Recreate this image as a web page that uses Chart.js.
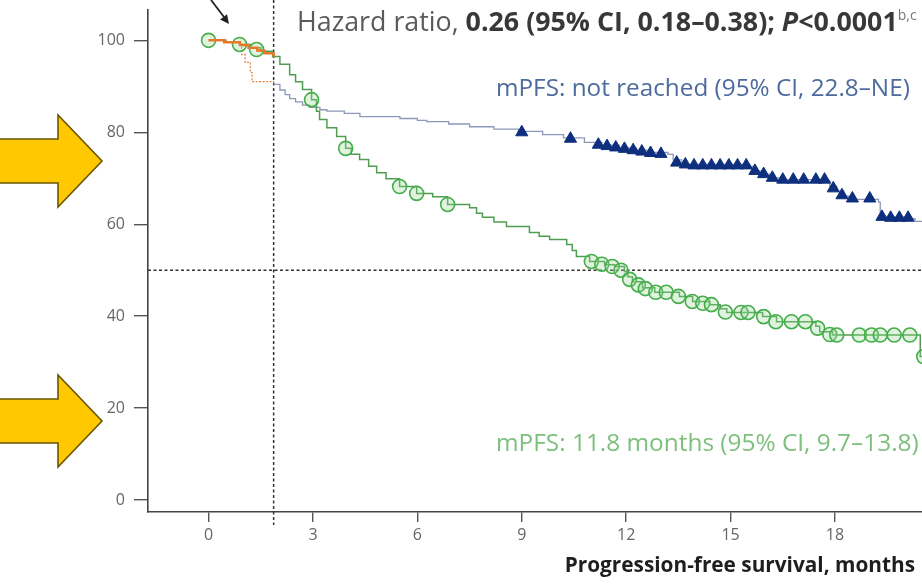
<!DOCTYPE html>
<html>
<head>
<meta charset="utf-8">
<script src="https://cdn.jsdelivr.net/npm/chart.js@4.4.1/dist/chart.umd.min.js"></script>
<style>
  html, body { margin: 0; padding: 0; background: #fff; overflow: hidden; }
  #wrap { width: 922px; height: 584px; }
</style>
</head>
<body>
<div id="wrap"><canvas id="km" width="922" height="584"></canvas></div>
<script>
// Axis ticks
const xTicks = [0, 3, 6, 9, 12, 15, 18];
const yTicks = [0, 20, 40, 60, 80, 100];
const landmarkMonth = 1.87;   // vertical reference line
const medianLevel = 50;       // horizontal reference line

// Control arm (green) Kaplan-Meier steps
const controlMonths = [0, 0.5, 0.9, 1.2, 1.5, 1.84, 2.05, 2.33, 2.5, 2.7, 2.96, 3.1, 3.19, 3.4, 3.68, 3.94, 4.1, 4.34, 4.6, 4.83, 5.1, 5.49, 5.98, 6.44, 6.87, 7.5, 7.7, 7.87, 8.2, 8.56, 9.22, 9.5, 9.8, 10.29, 10.45, 10.57, 10.95, 11.38, 11.67, 11.95, 12.05, 12.18, 12.47, 12.82, 13.53, 13.91, 14.4, 14.7, 14.89, 15.92, 16.32, 17.45, 17.56, 17.93, 20.4, 20.45, 20.6];
const controlPFS    = [100, 99.6, 99.1, 98.4, 97.6, 96.5, 94.8, 92.5, 91.0, 89.3, 87.1, 84.6, 82.8, 81.0, 79.1, 76.5, 75.2, 74.1, 72.6, 71.2, 69.9, 68.2, 66.7, 66.0, 64.3, 63.6, 62.4, 61.5, 60.5, 59.5, 58.2, 57.4, 56.7, 55.6, 54.3, 53.0, 51.9, 51.2, 50.8, 49.7, 48.6, 47.5, 46.2, 45.2, 44.3, 43.2, 42.5, 41.6, 40.8, 39.9, 38.8, 37.8, 36.6, 35.9, 35.9, 31.2, 31.2];
// Control arm censoring marks
const controlCensorMonths = [0, 0.89, 1.38, 2.96, 3.94, 5.49, 5.98, 6.87, 11.0, 11.3, 11.6, 11.85, 12.1, 12.35, 12.55, 12.85, 13.15, 13.5, 13.9, 14.2, 14.45, 14.85, 15.3, 15.5, 15.95, 16.3, 16.75, 17.15, 17.5, 17.85, 18.05, 18.7, 19.05, 19.3, 19.7, 20.15, 20.55];
const controlCensorPFS    = [100, 99.1, 98.0, 87.1, 76.5, 68.2, 66.7, 64.3, 51.9, 51.3, 50.8, 50.0, 48.0, 46.8, 46.0, 45.2, 45.2, 44.3, 43.2, 42.8, 42.5, 40.9, 40.8, 40.8, 39.9, 38.8, 38.8, 38.8, 37.4, 36.0, 35.9, 35.9, 35.9, 35.9, 35.9, 35.9, 31.2];

// Lead-in period (orange)
const leadInMonths = [0, 0.45, 0.9, 1.15, 1.4, 1.6, 1.87];
const leadInPFS    = [100, 99.6, 99.0, 98.4, 97.8, 97.2, 96.5];
const leadInDropMonths = [0.9, 0.95, 1.05, 1.2, 1.25, 1.87];
const leadInDropPFS    = [99.0, 96.9, 95.2, 93.0, 91.0, 90.6];

// Treatment arm (blue) Kaplan-Meier steps
const treatMonths = [1.87, 2.05, 2.2, 2.33, 2.5, 2.7, 2.9, 3.2, 3.4, 3.9, 4.35, 5.5, 6.0, 6.27, 6.9, 7.5, 8.2, 8.9, 9.6, 10.2, 10.8, 11.3, 11.8, 12.3, 12.6, 13.2, 13.35, 13.6, 15.55, 15.65, 15.9, 16.15, 16.4, 17.8, 17.85, 18.05, 18.25, 18.4, 19.25, 19.3, 20.15, 20.3, 20.5];
const treatPFS    = [90.4, 89.2, 88.2, 87.3, 86.6, 85.9, 85.4, 84.9, 84.6, 84.1, 83.4, 83.0, 82.6, 82.3, 81.8, 81.2, 80.7, 80.2, 79.5, 78.8, 77.8, 77.2, 76.6, 76.1, 75.6, 75.2, 74.0, 73.0, 72.6, 71.6, 70.9, 70.1, 69.7, 69.5, 68.3, 67.2, 66.1, 65.4, 64.8, 61.6, 61.2, 60.6, 60.6];
// Treatment arm censoring marks
const treatCensorMonths = [9.0, 10.4, 11.2, 11.45, 11.7, 11.95, 12.2, 12.45, 12.7, 13.0, 13.45, 13.7, 13.95, 14.2, 14.45, 14.7, 14.95, 15.2, 15.45, 15.7, 15.95, 16.2, 16.5, 16.8, 17.1, 17.45, 17.7, 17.95, 18.2, 18.5, 19.0, 19.35, 19.6, 19.85, 20.1];
const treatCensorPFS    = [80.0, 78.6, 77.3, 77.0, 76.7, 76.4, 76.1, 75.8, 75.5, 75.3, 73.4, 73.0, 72.8, 72.8, 72.8, 72.8, 72.8, 72.8, 72.8, 71.6, 70.9, 70.1, 69.7, 69.7, 69.7, 69.7, 69.7, 67.8, 66.3, 65.6, 65.6, 61.6, 61.4, 61.4, 61.4];

const pairs = (xs, ys) => xs.map((x, i) => ({ x, y: ys[i] }));

const FONT = '"Open Sans", "Noto Sans", sans-serif';

// Draw a line of text made of differently styled runs
function drawRuns(ctx, x, y, runs) {
  let cx = x;
  for (const r of runs) {
    ctx.font = r.font;
    ctx.fillStyle = r.color;
    ctx.fillText(r.text, cx, y + (r.dy || 0));
    cx += ctx.measureText(r.text).width;
  }
}

function yellowArrow(ctx, cy) {
  ctx.save();
  ctx.beginPath();
  ctx.moveTo(-3, cy - 22);
  ctx.lineTo(58, cy - 22);
  ctx.lineTo(58, cy - 46);
  ctx.lineTo(102, cy);
  ctx.lineTo(58, cy + 46);
  ctx.lineTo(58, cy + 22);
  ctx.lineTo(-3, cy + 22);
  ctx.closePath();
  ctx.fillStyle = '#ffc800';
  ctx.fill();
  ctx.lineWidth = 1.6;
  ctx.strokeStyle = '#6b5600';
  ctx.lineJoin = 'miter';
  ctx.stroke();
  ctx.restore();
}

const annotations = {
  id: 'annotations',
  beforeDatasetsDraw(chart) {
    const { ctx, chartArea, scales } = chart;
    const xv = scales.x.getPixelForValue(landmarkMonth);
    const yh = scales.y.getPixelForValue(medianLevel);
    ctx.save();
    ctx.strokeStyle = '#333';
    ctx.lineWidth = 1.5;
    ctx.setLineDash([3, 2.5]);
    ctx.beginPath();
    ctx.moveTo(xv, 0);
    ctx.lineTo(xv, chartArea.bottom + 13);
    ctx.moveTo(chartArea.left, yh);
    ctx.lineTo(chartArea.right, yh);
    ctx.stroke();
    ctx.restore();
  },
  afterDraw(chart) {
    const { ctx } = chart;
    ctx.save();
    ctx.textBaseline = 'alphabetic';
    ctx.textAlign = 'left';

    drawRuns(ctx, 297, 31, [
      { text: 'Hazard ratio, ', font: `26.8px ${FONT}`, color: '#5a5a5a' },
      { text: '0.26 (95% CI, 0.18\u20130.38); ', font: `bold 26.8px ${FONT}`, color: '#383838' },
      { text: 'P', font: `italic bold 26.8px ${FONT}`, color: '#383838' },
      { text: '<0.0001', font: `bold 26.8px ${FONT}`, color: '#383838' },
      { text: 'b,c', font: `14px ${FONT}`, color: '#777', dy: -11 }
    ]);

    ctx.font = `24.3px ${FONT}`;
    ctx.fillStyle = '#4d6b9c';
    ctx.fillText('mPFS: not reached (95% CI, 22.8\u2013NE)', 496, 96);

    ctx.font = `24.4px ${FONT}`;
    ctx.fillStyle = '#7dbf7d';
    ctx.fillText('mPFS: 11.8 months (95% CI, 9.7\u201313.8)', 496, 451);

    ctx.font = `bold 20.8px ${FONT}`;
    ctx.fillStyle = '#1e1e1e';
    ctx.textAlign = 'right';
    ctx.fillText('Progression-free survival, months', 915, 572);

    // pointer arrow at the top
    ctx.strokeStyle = '#222';
    ctx.fillStyle = '#222';
    ctx.lineWidth = 1.8;
    ctx.beginPath();
    ctx.moveTo(211, 0);
    ctx.lineTo(224, 17);
    ctx.stroke();
    const ang = Math.atan2(17, 13);
    ctx.beginPath();
    ctx.moveTo(229, 24);
    ctx.lineTo(229 - 10 * Math.cos(ang - 0.45), 24 - 10 * Math.sin(ang - 0.45));
    ctx.lineTo(229 - 10 * Math.cos(ang + 0.45), 24 - 10 * Math.sin(ang + 0.45));
    ctx.closePath();
    ctx.fill();
    ctx.restore();

    yellowArrow(ctx, 161);
    yellowArrow(ctx, 421);
  }
};

new Chart(document.getElementById('km'), {
  type: 'line',
  data: {
    datasets: [
      {
        label: 'Control censored',
        data: pairs(controlCensorMonths, controlCensorPFS),
        showLine: false,
        pointStyle: 'circle',
        pointRadius: 7,
        pointBorderWidth: 1.6,
        pointBorderColor: '#46ad4b',
        pointBackgroundColor: 'rgba(150,215,150,0.3)',
        order: 2
      },
      {
        label: 'Lead-in',
        data: pairs(leadInMonths, leadInPFS),
        stepped: true,
        borderColor: '#e8792a',
        borderWidth: 2.5,
        pointRadius: 0,
        order: 1
      },
      {
        label: 'Lead-in events',
        data: pairs(leadInDropMonths, leadInDropPFS),
        stepped: true,
        borderColor: '#d98545',
        borderWidth: 1.2,
        borderDash: [2, 1.5],
        pointRadius: 0,
        order: 3
      },
      {
        label: 'Control',
        data: pairs(controlMonths, controlPFS),
        stepped: true,
        borderColor: '#4f9e4f',
        borderWidth: 1.5,
        pointRadius: 0,
        order: 4
      },
      {
        label: 'Treatment censored',
        data: pairs(treatCensorMonths, treatCensorPFS),
        showLine: false,
        pointStyle: 'triangle',
        pointRadius: 7,
        pointBorderWidth: 1,
        pointBorderColor: '#0e2f7d',
        pointBackgroundColor: '#0e2f7d',
        order: 0
      },
      {
        label: 'Treatment',
        data: pairs(treatMonths, treatPFS),
        stepped: true,
        borderColor: '#8c97b9',
        borderWidth: 1.3,
        pointRadius: 0,
        order: 5
      }
    ]
  },
  options: {
    responsive: false,
    devicePixelRatio: 1,
    animation: false,
    layout: { autoPadding: false, padding: { top: 10, right: 0, left: 0, bottom: 0 } },
    plugins: { legend: { display: false }, tooltip: { enabled: false } },
    scales: {
      x: {
        type: 'linear',
        min: -1.74,
        max: 20.5,
        afterFit: s => { s.height = 72; s.paddingLeft = 0; s.paddingRight = 0; },
        afterBuildTicks: s => { s.ticks = xTicks.map(v => ({ value: v })); },
        ticks: { color: '#666', font: { family: FONT, size: 16 }, padding: 4, maxRotation: 0 },
        grid: { drawOnChartArea: false, drawTicks: true, tickLength: 10, color: '#555', lineWidth: 1.4 },
        border: { color: '#444', width: 1.6 }
      },
      y: {
        type: 'linear',
        min: -2.6,
        max: 106.6,
        afterFit: s => { s.width = 148; s.paddingTop = 0; s.paddingBottom = 0; },
        afterBuildTicks: s => { s.ticks = yTicks.map(v => ({ value: v })); },
        ticks: { color: '#666', font: { family: FONT, size: 16 }, padding: 9 },
        grid: { drawOnChartArea: false, drawTicks: true, tickLength: 14, color: '#555', lineWidth: 1.4 },
        border: { color: '#444', width: 1.6 }
      }
    }
  },
  plugins: [annotations]
});
</script>
</body>
</html>
